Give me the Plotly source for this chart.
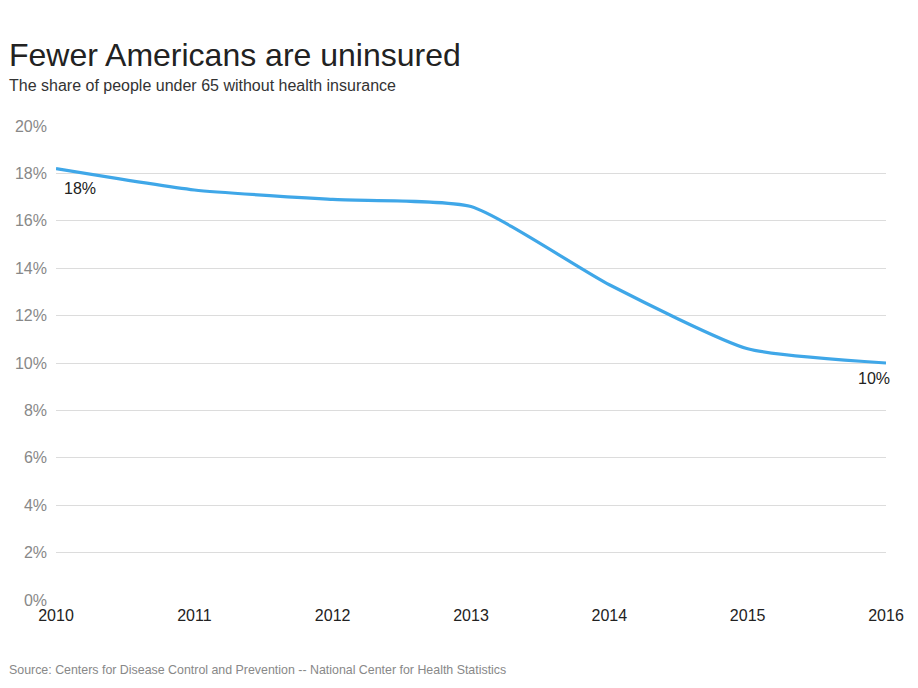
import plotly.graph_objects as go

years = [2010, 2011, 2012, 2013, 2014, 2015, 2016]
uninsured = [18.2, 17.3, 16.9, 16.6, 13.3, 10.6, 10.0]
y_ticks = [0, 2, 4, 6, 8, 10, 12, 14, 16, 18, 20]
y_tick_labels = [f"{v}%" for v in y_ticks]

FONT = "Liberation Sans, Arial, sans-serif"
W, H = 918, 688
L, R, T, B = 56, 32, 126, 88
PW, PH = W - L - R, H - T - B


def px_x(x):
    return (x - L) / PW


def px_y(y):
    return (H - B - y) / PH


fig = go.Figure()
fig.add_trace(go.Scatter(
    x=years, y=uninsured, mode="lines",
    line=dict(color="#3fa7e8", width=3.2, shape="spline", smoothing=0.55),
    hoverinfo="x+y", showlegend=False,
))

annotations = [
    dict(x=years[0], y=uninsured[0], text=f"{round(uninsured[0])}%",
         showarrow=False, xanchor="left", yanchor="top", xshift=6, yshift=-9,
         font=dict(family=FONT, size=16, color="#222")),
    dict(x=years[-1], y=uninsured[-1], text=f"{round(uninsured[-1])}%",
         showarrow=False, xanchor="right", yanchor="top", xshift=6, yshift=-5,
         font=dict(family=FONT, size=16, color="#222")),
    dict(xref="paper", yref="paper", x=px_x(7), y=px_y(55),
         xanchor="left", yanchor="middle", showarrow=False,
         text="Fewer Americans are uninsured",
         font=dict(family=FONT, size=32, color="#222")),
    dict(xref="paper", yref="paper", x=px_x(7), y=px_y(86),
         xanchor="left", yanchor="middle", showarrow=False,
         text="The share of people under 65 without health insurance",
         font=dict(family=FONT, size=16, color="#333")),
    dict(xref="paper", yref="paper", x=px_x(7), y=px_y(670),
         xanchor="left", yanchor="middle", showarrow=False,
         text="Source: Centers for Disease Control and Prevention -- National Center for Health Statistics",
         font=dict(family=FONT, size=12.4, color="#888")),
]

fig.update_layout(
    width=W, height=H,
    margin=dict(l=L, r=R, t=T, b=B),
    paper_bgcolor="white", plot_bgcolor="white",
    xaxis=dict(
        range=[2010, 2016], tickvals=years, ticktext=[str(y) for y in years],
        showgrid=False, zeroline=False, showline=False, ticks="",
        tickfont=dict(family=FONT, size=16, color="#222"),
        ticklabelstandoff=4, fixedrange=True,
    ),
    yaxis=dict(
        range=[0, 20], tickvals=y_ticks, ticktext=y_tick_labels,
        showgrid=True, gridcolor="#dcdcdc", gridwidth=1, zeroline=False, showline=False,
        tickfont=dict(family=FONT, size=16, color="#888"),
        ticks="", ticklabelstandoff=8, fixedrange=True,
    ),
    annotations=annotations,
)

fig.write_html("out.html", config={"displayModeBar": False},
               post_script="document.body.style.margin='0';document.body.style.padding='0';")
